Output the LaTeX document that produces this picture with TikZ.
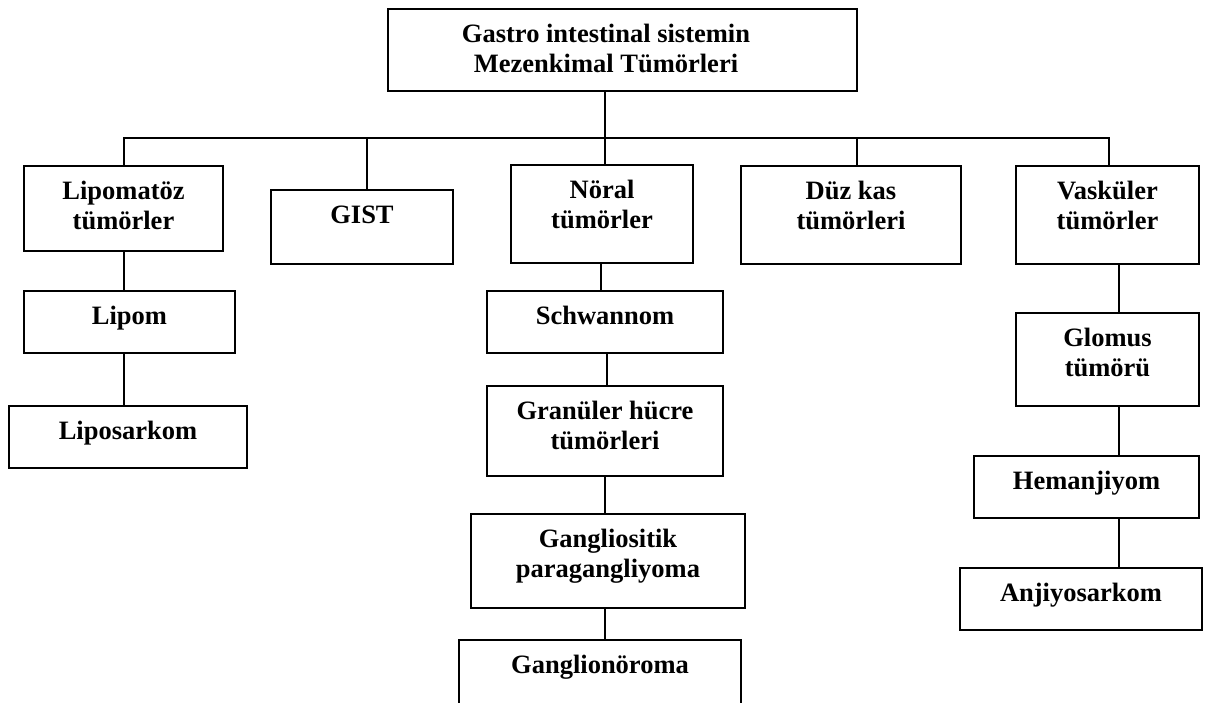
\documentclass[tikz,border=0pt]{standalone}
\usepackage{fontspec}
\setmainfont{Liberation Serif}
\begin{document}
\begin{tikzpicture}[x=1pt,y=-1pt,
  box/.style={draw=black, line width=2.2pt, inner sep=0pt, fill=white},
  lbl/.style={anchor=base, yshift=-35pt, align=center, inner sep=0pt,
    font=\bfseries\fontsize{26.5}{30}\selectfont},
  lbltwo/.style={lbl, yshift=-30pt},
  conn/.style={draw=black, line width=2pt}]
\clip (0,0) rectangle (1213,702);
\fill[white] (0,0) rectangle (1213,702);
% top
\node[box, minimum width=469pt, minimum height=82pt,
  label={[lbltwo, xshift=-16.5pt]north:Gastro intestinal sistemin\\Mezenkimal Tümörleri}] (top) at (622.5,50) {};
% level 1
\node[box, minimum width=199pt, minimum height=85pt,
  label={[lbltwo]north:Lipomatöz\\tümörler}] (lipo) at (123.5,208.5) {};
\node[box, minimum width=182pt, minimum height=74pt,
  label={[lbl]north:GIST}] (gist) at (362,227) {};
\node[box, minimum width=182pt, minimum height=98pt,
  label={[lbltwo]north:Nöral\\tümörler}] (noral) at (602,214) {};
\node[box, minimum width=220pt, minimum height=98pt,
  label={[lbltwo]north:Düz kas\\tümörleri}] (duz) at (851,215) {};
\node[box, minimum width=183pt, minimum height=98pt,
  label={[lbltwo]north:Vasküler\\tümörler}] (vas) at (1107.5,215) {};
% lipomatoz column
\node[box, minimum width=211pt, minimum height=62pt,
  label={[lbl]north:Lipom}] (lipom) at (129.5,322) {};
\node[box, minimum width=238pt, minimum height=62pt,
  label={[lbl]north:Liposarkom}] (liposar) at (128,437) {};
% noral column
\node[box, minimum width=236pt, minimum height=62pt,
  label={[lbl]north:Schwannom}] (schw) at (605,322) {};
\node[box, minimum width=236pt, minimum height=90pt,
  label={[lbltwo]north:Granüler hücre\\tümörleri}] (gran) at (605,431) {};
\node[box, minimum width=274pt, minimum height=94pt,
  label={[lbltwo]north:Gangliositik\\paragangliyoma}] (gangl) at (608,561) {};
\node[box, minimum width=282pt, minimum height=100pt,
  label={[lbl]north:Ganglionöroma}] (ganglio) at (600,690) {};
% vaskuler column
\node[box, minimum width=183pt, minimum height=93pt,
  label={[lbltwo]north:Glomus\\tümörü}] (glom) at (1107.5,359.5) {};
\node[box, minimum width=225pt, minimum height=62pt,
  label={[lbl]north:Hemanjiyom}] (hem) at (1086.5,487) {};
\node[box, minimum width=242pt, minimum height=62pt,
  label={[lbl]north:Anjiyosarkom}] (anj) at (1081,599) {};
% connectors
\coordinate (bus) at (605,138);
\coordinate (vx) at (1119,0);
\draw[conn] (top.south -| bus) -- (bus);
\draw[conn] (lipo.north) |- (bus) -| ([xshift=1.5pt]vas.north);
\draw[conn] ([xshift=5pt]gist.north) -- ([xshift=5pt]gist.north |- bus);
\draw[conn] ([xshift=3pt]noral.north) -- ([xshift=3pt]noral.north |- bus);
\draw[conn] ([xshift=6pt]duz.north) -- ([xshift=6pt]duz.north |- bus);
\draw[conn] (lipo.south) -- (lipo.south |- lipom.north);
\draw[conn] (lipo.south |- lipom.south) -- (lipo.south |- liposar.north);
\draw[conn] ([xshift=-1pt]noral.south) -- ([xshift=-1pt]noral.south |- schw.north);
\draw[conn] ([xshift=2pt]schw.south) -- ([xshift=2pt]schw.south |- gran.north);
\draw[conn] (gran.south) -- (gran.south |- gangl.north);
\draw[conn] (gran.south |- gangl.south) -- (gran.south |- ganglio.north);
\draw[conn] (vas.south -| vx) -- (glom.north -| vx);
\draw[conn] (glom.south -| vx) -- (hem.north -| vx);
\draw[conn] (hem.south -| vx) -- (anj.north -| vx);
\end{tikzpicture}
\end{document}
